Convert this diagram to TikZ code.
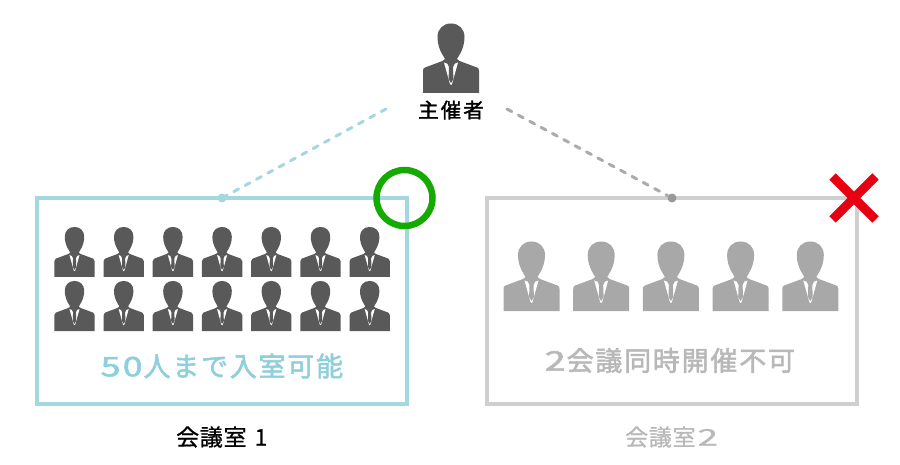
\documentclass[tikz,border=0pt]{standalone}
\usepackage{fontspec}
\setmainfont{Noto Sans CJK JP}
\newfontfamily\jpwide{Noto Sans CJK JP}[LetterSpace=6.5,FakeBold=2]
\newfontfamily\jpcap{Noto Sans CJK JP}[LetterSpace=3,FakeBold=0.8]
\newfontfamily\jphost{Noto Sans CJK JP}[LetterSpace=10,FakeBold=1.5]
\newcommand{\widedigit}[2]{\scalebox{#1}[1]{#2}}
\definecolor{teal1}{HTML}{A3D8E0}
\definecolor{tealt}{HTML}{8FCFDB}
\definecolor{gbox}{HTML}{CFCFCF}
\definecolor{gtxt}{HTML}{B8B8B8}
\definecolor{pdark}{HTML}{595959}
\definecolor{plight}{HTML}{A8A8A8}
\definecolor{okgreen}{HTML}{14AA00}
\definecolor{ngred}{HTML}{E60012}
\tikzset{
  person/.pic={
    \fill[pic actions] (-28,0) -- (-28,22) .. controls (-28,24) and (-27.5,25) .. (-26,25.5)
      -- (-8.5,32) -- (-6,34) .. controls (-7,36) and (-8.5,38) .. (-9.5,40)
      .. controls (-11.5,44) and (-13.5,49) .. (-13.5,56)
      .. controls (-13.5,64) and (-8,69.5) .. (0,69.5)
      .. controls (8,69.5) and (13.5,64) .. (13.5,56)
      .. controls (13.5,49) and (11.5,44) .. (9.5,40)
      .. controls (8.5,38) and (7,36) .. (6,34) -- (8.5,32)
      -- (26,25.5) .. controls (27.5,25) and (28,24) .. (28,22) -- (28,0) -- cycle;
    \fill[white] (-7,30.5) -- (-4.5,29.5) -- (4.5,29.5) -- (7,30.5) -- (1,9) -- (0,8) -- (-1,9) -- cycle;
    \fill[pic actions] (-4,30) -- (4,30) -- (2,26) -- (2.4,14) -- (0,10) -- (-2.4,14) -- (-2,26) -- cycle;
  },
  room/.style={line width=3.2pt},
  link/.style={line width=3pt, line cap=round, dash pattern=on 5.5pt off 7.4pt},
  dotmark/.style={circle, inner sep=0pt, minimum size=9pt},
  roomcap/.style={font=\jpcap\fontsize{23}{23}\selectfont, inner sep=0pt, anchor=west},
  bigtext/.style={font=\jpwide\fontsize{27}{27}\selectfont, inner sep=0pt, anchor=west}
}
\begin{document}
\begin{tikzpicture}[x=1pt,y=-1pt]
\useasboundingbox (0,0) rectangle (900,465);
% rooms
\node[room, draw=teal1, minimum width=370pt, minimum height=206pt, inner sep=0pt] (roomA) at (222,301) {};
\node[room, draw=gbox, minimum width=370pt, minimum height=206pt, inner sep=0pt] (roomB) at (672,301) {};
% host
\pic[fill=pdark, yscale=-1] at (451,93) {person};
\node[font=\jphost\fontsize{20.5}{20.5}\selectfont, inner sep=0pt] (host) at (451,110) {主催者};
% connectors
\coordinate (hl) at (386,109);
\coordinate (hr) at (507,109);
\node[dotmark, fill=teal1] (da) at (222,198) {};
\node[dotmark, fill=black!40] (db) at (672,198) {};
\draw[link, draw=teal1] (hl) -- (da);
\draw[link, draw=black!33] (hr) -- (db);
% people in room 1
\foreach \i in {0,...,6} {
  \pic[fill=pdark, xscale=0.72, yscale=-0.72] at ({74.5+49.2*\i},277) {person};
  \pic[fill=pdark, xscale=0.72, yscale=-0.72] at ({74.5+49.2*\i},331) {person};
}
% people in room 2
\foreach \i in {0,...,4} {
  \pic[fill=plight, yscale=-1] at ({531.5+69.7*\i},311) {person};
}
% texts
\node[bigtext, text=tealt] (ta) at (100.5,366) {\widedigit{1.32}{50}\hspace{1pt}人まで入室可能};
\node[bigtext, text=gtxt] (tb) at (544.5,360.5) {\widedigit{1.4}{2}\hspace{1pt}会議同時開催不可};
\node[roomcap, text=black] (ca) at (176,437) {会議室\hspace{8pt}1};
\node[roomcap, text=gtxt] (cb) at (625,437) {会議室\hspace{2pt}\widedigit{1.6}{2}};
% marks
\draw[line width=6.5pt, draw=okgreen] (404.5,198) circle (28);
\draw[line width=9pt, draw=ngred] (832.5,176.5) -- (875.5,219.5);
\draw[line width=9pt, draw=ngred] (875.5,176.5) -- (832.5,219.5);
\end{tikzpicture}
\end{document}
